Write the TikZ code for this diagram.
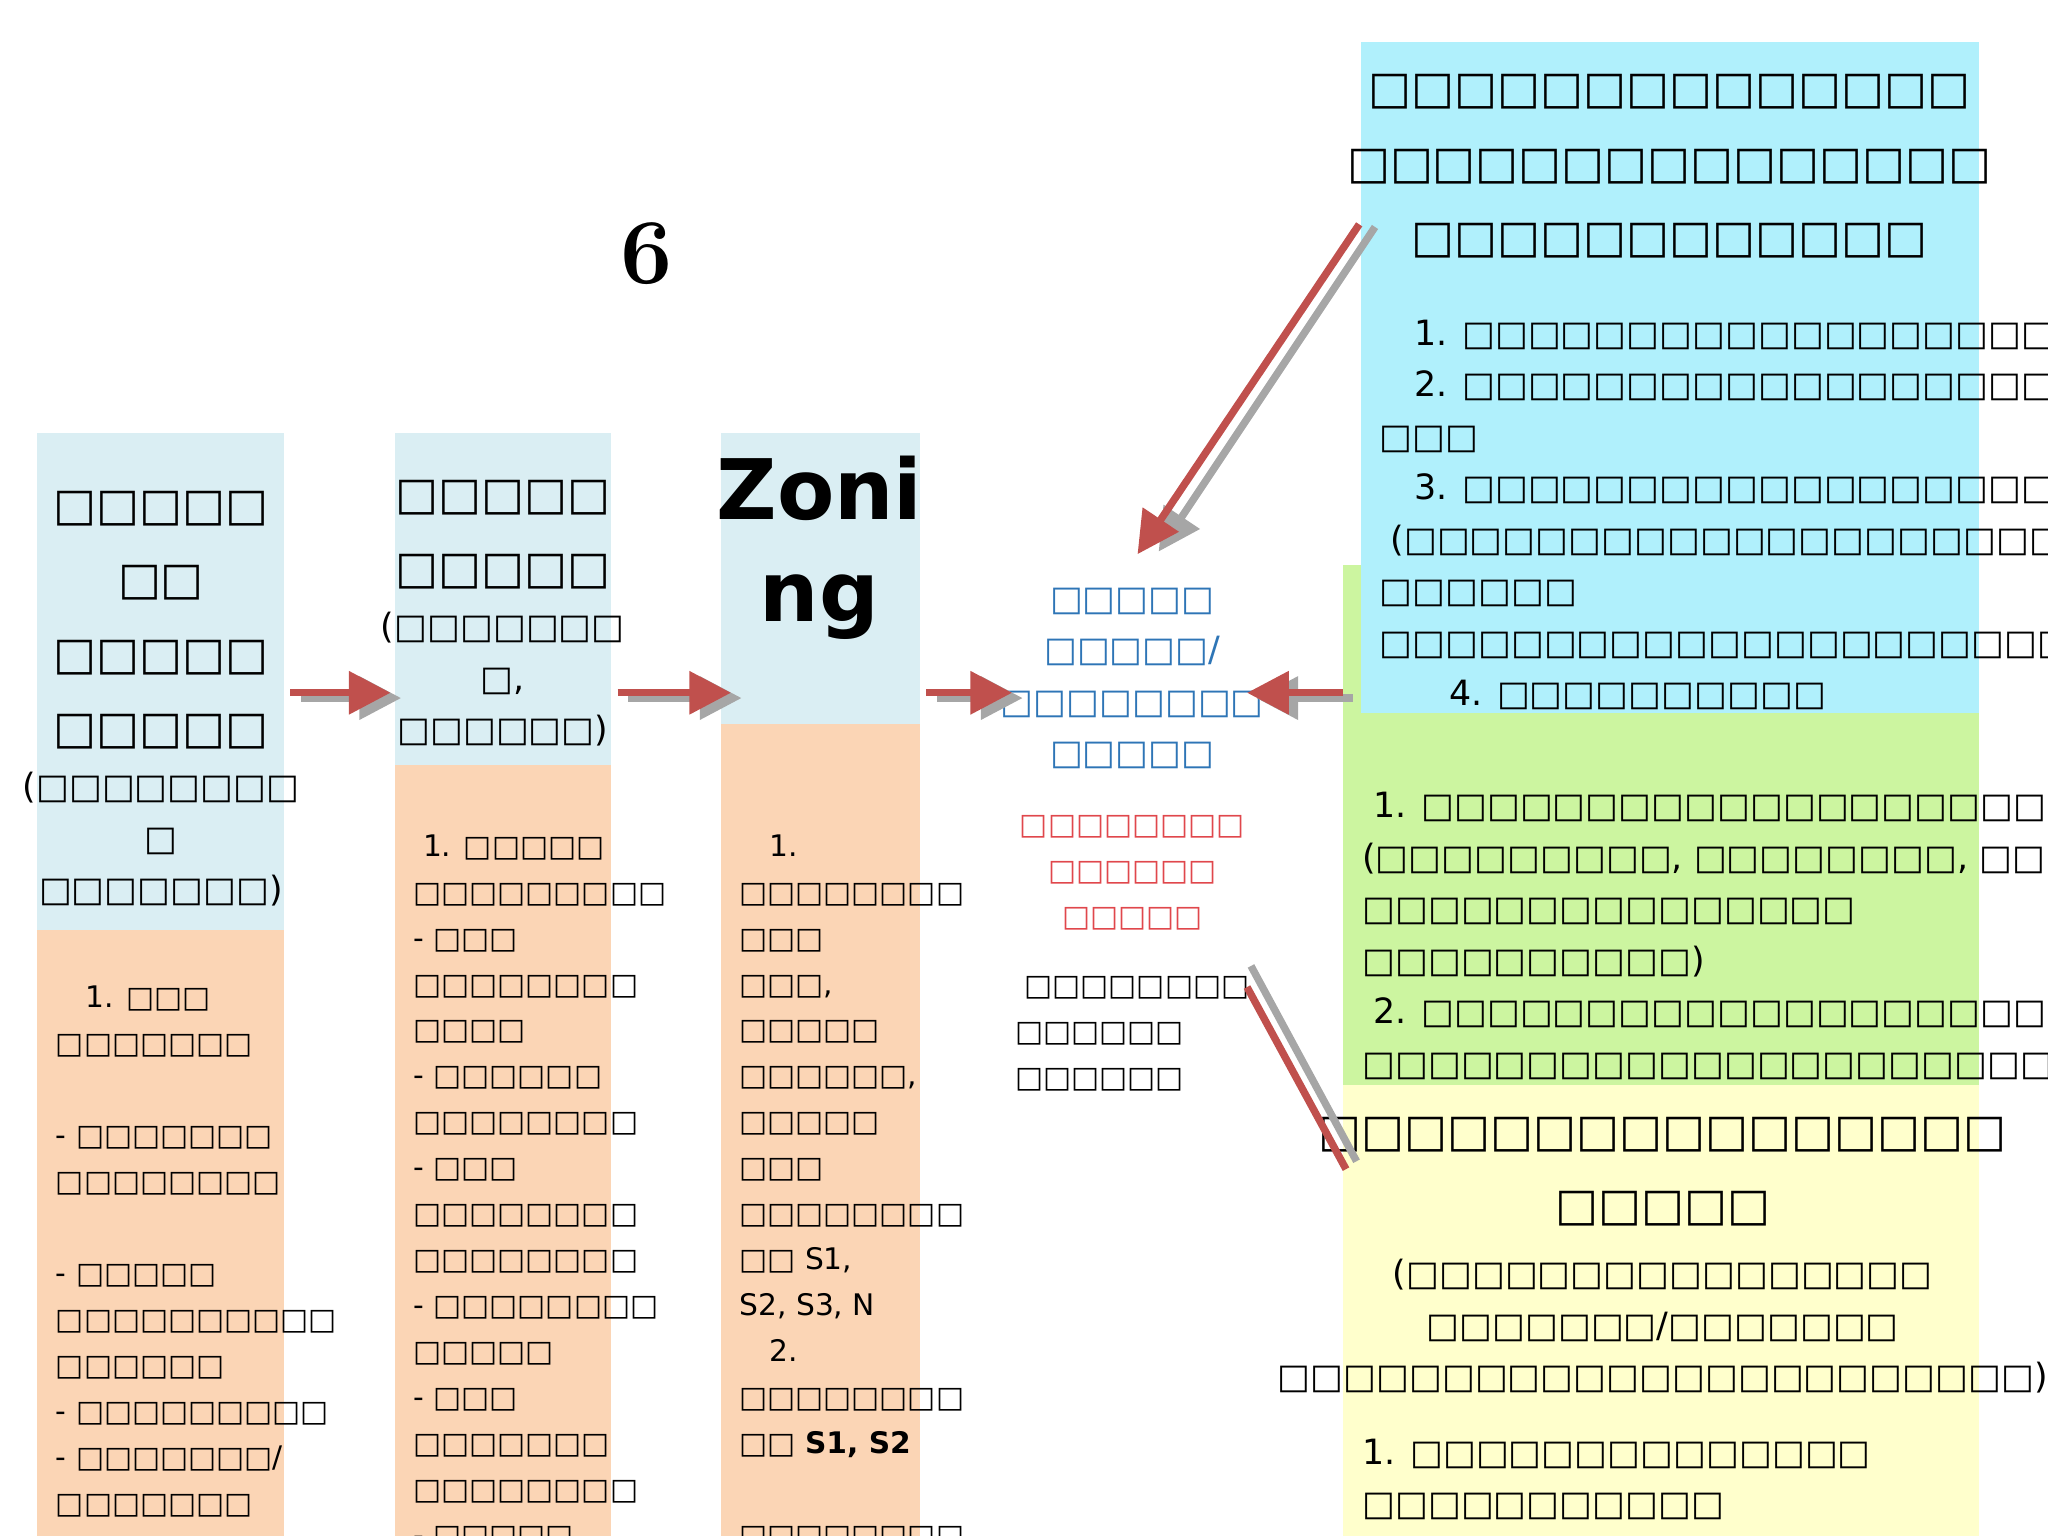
\documentclass[tikz,border=0pt]{standalone}
\usepackage{fontspec}
\setmainfont{DejaVu Sans}
\newfontfamily\numfont{Latin Modern Roman}
\usetikzlibrary{positioning,arrows.meta}
\definecolor{paleblue}{HTML}{DAEEF3}
\definecolor{paleorange}{HTML}{FBD5B5}
\definecolor{palecyan}{HTML}{B0F0FC}
\definecolor{palegreen}{HTML}{CCF5A0}
\definecolor{paleyellow}{HTML}{FFFFCC}
\definecolor{arrowred}{HTML}{C0504D}
\definecolor{textblue}{HTML}{2E75B6}
\definecolor{textred}{HTML}{E0474C}
\tikzset{
  big/.style={font=\fontsize{9.8}{16}\selectfont},
  small/.style={font=\fontsize{6.4}{9.9}\selectfont},
  mid/.style={font=\fontsize{7.5}{11.1}\selectfont},
  flow/.style={line width=1.6pt,draw=arrowred,-{Triangle[length=9pt,width=9pt]}},
  flowshade/.style={line width=1.6pt,draw=gray!70,-{Triangle[length=9pt,width=9pt]}},
}
\begin{document}
\begin{tikzpicture}[x=0.01cm,y=-0.01cm]
\useasboundingbox (0,0) rectangle (1552,1164);
%Kaesten
\fill[paleblue] (28,328) rectangle (215,705);
\fill[paleorange] (28,705) rectangle (215,1164);
\fill[paleblue] (299,328) rectangle (463,580);
\fill[paleorange] (299,580) rectangle (463,1164);
\fill[paleblue] (546,328) rectangle (697,549);
\fill[paleorange] (546,549) rectangle (697,1164);
\fill[palegreen] (1018,428) rectangle (1500,822);
\fill[palecyan] (1031,32) rectangle (1500,540);
\fill[paleyellow] (1018,822) rectangle (1500,1164);

\node[font=\numfont\bfseries\fontsize{20}{20}\selectfont] (six) at (490,192) {6};

%Spalte 1
\node[big,align=center] (t1) at (122,470) {□□□□□\\□□\\□□□□□\\□□□□□};
\node[mid,align=center,below=-2pt of t1] (t1b) {(□□□□□□□□\\□\\□□□□□□□)};
\node[small,anchor=north west,align=left] (l1) at (30,735) {\quad 1. □□□\\□□□□□□□\\\\- □□□□□□□\\□□□□□□□□\\\\- □□□□□\\□□□□□□□□□□\\□□□□□□\\- □□□□□□□□□\\- □□□□□□□/\\□□□□□□□\\- □□□□□};
%Spalte 2
\node[big,align=center] (t2) at (381,405) {□□□□□\\□□□□□};
\node[mid,align=center,below=-2pt of t2] (t2b) {(□□□□□□□\\□,\\□□□□□□)};
\node[small,anchor=north west,align=left] (l2) at (301,620) {\ 1. □□□□□\\□□□□□□□□□\\- □□□\\□□□□□□□□\\□□□□\\- □□□□□□\\□□□□□□□□\\- □□□\\□□□□□□□□\\□□□□□□□□\\- □□□□□□□□\\□□□□□\\- □□□\\□□□□□□□\\□□□□□□□□\\- □□□□□};
%Spalte 3
\node[font=\bfseries\fontsize{18}{22}\selectfont,align=center] (t3) at (621,415) {Zoni\\ng};
\node[small,anchor=north west,align=left] (l3) at (548,620) {\quad 1.\\□□□□□□□□\\□□□\\□□□,\\□□□□□\\□□□□□□,\\□□□□□\\□□□\\□□□□□□□□\\□□ S1,\\S2, S3, N\\\quad 2.\\□□□□□□□□\\□□ \textbf{S1, S2}\\\\□□□□□□□□};
%Mitte
\node[mid,text=textblue,align=center] (mb) at (858,514) {□□□□□\\□□□□□/\\□□□□□□□□\\□□□□□};
\node[small,text=textred,align=center,below=3pt of mb] (mr) {□□□□□□□□\\□□□□□□\\□□□□□};
\node[small,align=left,below=3pt of mr] (mk) {\ □□□□□□□□\\□□□□□□\\□□□□□□};
%rechts oben
\node[big,align=center] (rt) at (1265,126) {□□□□□□□□□□□□□□\\□□□□□□□□□□□□□□□\\□□□□□□□□□□□□};
\node[mid,anchor=north west,align=left] (rl) at (1033,230) {\quad 1. □□□□□□□□□□□□□□□□□□□□□□\\\quad 2. □□□□□□□□□□□□□□□□□□□□□\\□□□\\\quad 3. □□□□□□□□□□□□□□□□□□□□□□\\\ (□□□□□□□□□□□□□□□□□□□□□□□□\\□□□□□□\\□□□□□□□□□□□□□□□□□□□□□□)\\\qquad 4. □□□□□□□□□□};
%gruen
\node[mid,anchor=north west,align=left] (gl) at (1020,588) {\ 1. □□□□□□□□□□□□□□□□□□□□□□\\(□□□□□□□□□, □□□□□□□□, □□□\\□□□□□□□□□□□□□□□\\□□□□□□□□□□)\\\ 2. □□□□□□□□□□□□□□□□□□□□□□\\□□□□□□□□□□□□□□□□□□□□□□□□};
%gelb
\node[big,align=center] (yt) at (1260,888) {□□□□□□□□□□□□□□□□\\□□□□□};
\node[mid,align=center,below=0pt of yt] (yb) {(□□□□□□□□□□□□□□□□\\□□□□□□□/□□□□□□□\\□□□□□□□□□□□□□□□□□□□□□□□)};
\node[mid,anchor=north west,align=left] (yl) at (1020,1078) {1. □□□□□□□□□□□□□□\\□□□□□□□□□□□\\2. □□□□□□□□□□□□□□□□□};
%Pfeile
\foreach \a/\b in {220/300,468/558,702/771}{
  \draw[flowshade] (\a+8,529) -- (\b+4,529);
  \draw[flow] (\a,525) -- (\b-4,525);}
\draw[flowshade] (1025,529) -- (952,529);
\draw[flow] (1018,525) -- (945,525);
\draw[flowshade] (1042,172) -- (878,418);
\draw[flow] (1030,170) -- (862,420);
\draw[line width=1.6pt,gray!70] (948,732) -- (1028,880);
\draw[line width=1.6pt,arrowred] (945,748) -- (1020,886);
\end{tikzpicture}
\end{document}
